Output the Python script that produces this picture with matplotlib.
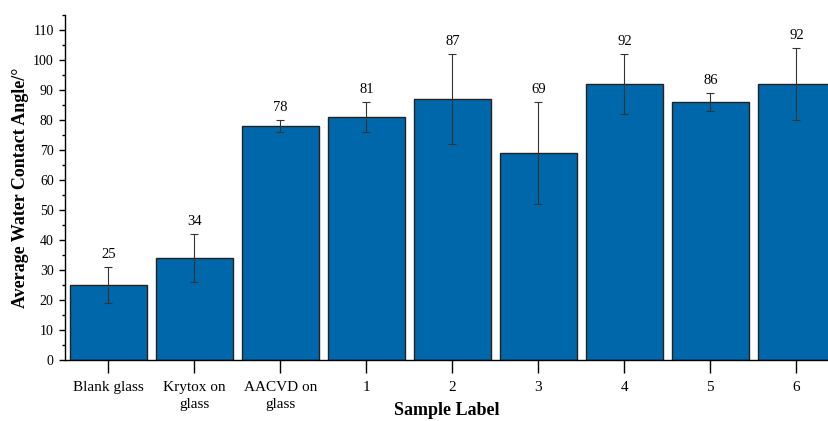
import matplotlib
matplotlib.use("Agg")
import matplotlib.pyplot as plt
from matplotlib.ticker import MultipleLocator

plt.rcParams["font.family"] = ["Liberation Serif", "DejaVu Serif"]

labels = ["Blank glass", "Krytox on\nglass", "AACVD on\nglass", "1", "2", "3", "4", "5", "6"]
angles = [25, 34, 78, 81, 87, 69, 92, 86, 92]
errors = [6, 8, 2, 5, 15, 17, 10, 3, 12]

BAR_COLOR = "#0068aa"

fig = plt.figure(figsize=(8.29, 4.21), dpi=100)
ax = fig.add_axes([0.079, 0.145, 0.921, 0.82])

x = range(len(angles))
ax.bar(x, angles, width=0.9, color=BAR_COLOR, edgecolor="#222222", linewidth=1.0,
       yerr=errors, error_kw=dict(ecolor="#333333", elinewidth=0.8, capsize=3, capthick=0.8))

# value labels above the error bars
for xi, v, e in zip(x, angles, errors):
    ax.annotate(str(v), xy=(xi, v + e), xytext=(0, 4), textcoords="offset points",
                ha="center", va="bottom", fontsize=10.5)

ax.set_xlim(-0.5, 8.38)
ax.set_ylim(0, 115)
ax.set_xticks(list(x))
ax.set_xticklabels(labels, fontsize=11, linespacing=1.45)
ax.yaxis.set_major_locator(MultipleLocator(10))
ax.yaxis.set_minor_locator(MultipleLocator(5))
ax.tick_params(axis="y", which="major", direction="out", length=4.5, width=1, labelsize=10, pad=4)
ax.tick_params(axis="y", which="minor", direction="out", length=2.5, width=1)
ax.tick_params(axis="x", which="major", direction="out", length=9, width=1, pad=6)

for side in ["top", "right"]:
    ax.spines[side].set_visible(False)
ax.spines["left"].set_linewidth(1.0)
ax.spines["bottom"].set_linewidth(1.0)

ax.set_ylabel("Average Water Contact Angle/°", fontsize=13, fontweight="bold", labelpad=3)
ax.set_xlabel("Sample Label", fontsize=13, fontweight="bold", labelpad=-7)

fig.savefig("out.png", dpi=100)
